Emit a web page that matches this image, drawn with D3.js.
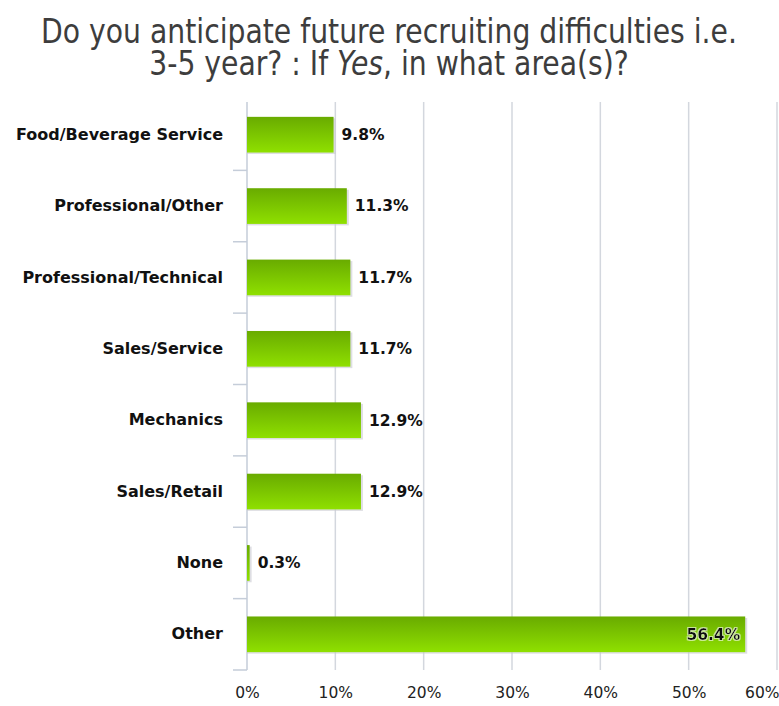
<!DOCTYPE html>
<html><head><meta charset="utf-8">
<script src="https://cdn.jsdelivr.net/npm/d3@7"></script>
<style>body{margin:0;background:#fff}svg{display:block}</style>
</head><body><svg id="c" width="779" height="706"></svg>
<script>
const categories = ["Food/Beverage Service","Professional/Other","Professional/Technical","Sales/Service","Mechanics","Sales/Retail","None","Other"];
const values = [9.8, 11.3, 11.7, 11.7, 12.9, 12.9, 0.3, 56.4];
const xTicks = [0,10,20,30,40,50,60];
const titleLines = ["Do you anticipate future recruiting difficulties i.e.", "3-5 year? : If |Yes|, in what area(s)?"];

const svg = d3.select("#c");
const m = {left:247, right:777, top:99, bottom:670};
const x = d3.scaleLinear().domain([0,60]).range([m.left, m.right]);
const y = d3.scaleBand().domain(categories).range([m.top, m.bottom]).paddingInner(0.5).paddingOuter(0.25);

const defs = svg.append("defs");
const g = defs.append("linearGradient").attr("id","bar").attr("x1",0).attr("y1",0).attr("x2",0).attr("y2",1);
g.append("stop").attr("offset","0%").attr("stop-color","#69ab00");
g.append("stop").attr("offset","100%").attr("stop-color","#8fe000");
const f = defs.append("filter").attr("id","glow");
f.append("feMorphology").attr("in","SourceAlpha").attr("operator","dilate").attr("radius",1).attr("result","d");
f.append("feFlood").attr("flood-color","#ffffff").attr("flood-opacity",0.6);
f.append("feComposite").attr("in2","d").attr("operator","in").attr("result","w");
const fm = f.append("feMerge"); fm.append("feMergeNode").attr("in","w"); fm.append("feMergeNode").attr("in","SourceGraphic");

// title
const title = svg.append("g").attr("transform","translate(389,0) scale(1,1.08)");
const tt = title.append("text").attr("text-anchor","middle").attr("fill","#3d3d3d")
  .style("font-family","'DejaVu Sans',sans-serif").style("font-stretch","condensed").style("font-size","30px");
titleLines.forEach((ln,i)=>{
  const t = tt.append("tspan").attr("x",0).attr("y",[39.5,69.5][i]);
  ln.split("|").forEach((part,j)=>{ t.append("tspan").text(part).style("font-style", j%2 ? "italic" : "normal"); });
});
// fit first line to the reference width (~698px)
const w0 = tt.select("tspan").node().getComputedTextLength();
tt.style("font-size", (30 * 696 / w0) + "px");

// grid
svg.append("g").selectAll("line").data(xTicks.filter(d=>d>0)).join("line")
  .attr("x1",d=>x(d)).attr("x2",d=>x(d)).attr("y1",102).attr("y2",m.bottom)
  .attr("stroke","#d3d7de").attr("stroke-width",1.5);

// y axis
const yAxis = d3.axisLeft(y).tickSize(0).tickPadding(24);
const ya = svg.append("g").attr("transform",`translate(${m.left},0)`).call(yAxis);
ya.select(".domain").remove();
ya.selectAll("text").attr("fill","#111").style("font-family","'DejaVu Sans',sans-serif").style("font-size","16px").style("font-weight","bold");
svg.append("line").attr("x1",m.left).attr("x2",m.left).attr("y1",102).attr("y2",m.bottom).attr("stroke","#c5cdd9").attr("stroke-width",1.5);
// band ticks
const step = y.step();
svg.append("g").selectAll("line").data(categories).join("line")
  .attr("x1",m.left-14).attr("x2",m.left)
  .attr("y1",d=>y(d)+y.bandwidth()+ step*0.25 ).attr("y2",d=>y(d)+y.bandwidth()+step*0.25)
  .attr("stroke","#c5cdd9").attr("stroke-width",1.5);

// x axis
const xAxis = d3.axisBottom(x).tickValues(xTicks).tickFormat(d=>d+"%").tickSize(0).tickPadding(17);
const xa = svg.append("g").attr("transform",`translate(0,${m.bottom})`).call(xAxis);
xa.select(".domain").remove();
xa.selectAll("text").attr("fill","#222").style("font-family","'DejaVu Sans',sans-serif").style("font-size","15.5px");
xa.selectAll(".tick").filter(d=>d===60).select("text").attr("text-anchor","end").attr("x",779-x(60));

// bars
const bars = svg.append("g");
bars.selectAll("rect.sh").data(values).join("rect").attr("class","sh")
  .attr("x",m.left).attr("y",(d,i)=>y(categories[i])+1.5).attr("height",y.bandwidth())
  .attr("width",d=>x(d)-m.left+2).attr("fill","#c8c8d0").attr("opacity",0.6);
bars.selectAll("rect.b").data(values).join("rect").attr("class","b")
  .attr("x",m.left).attr("y",(d,i)=>y(categories[i])).attr("height",y.bandwidth())
  .attr("width",d=>x(d)-m.left).attr("fill","url(#bar)");

// labels
svg.append("g").selectAll("text").data(values).join("text")
  .attr("x",d=> d>40 ? x(d)-5 : x(d)+8)
  .attr("y",(d,i)=>y(categories[i])+y.bandwidth()/2)
  .attr("dy","0.35em").attr("text-anchor",d=>d>40?"end":"start")
  .attr("fill","#111").attr("filter",d=>d>40?"url(#glow)":null)
  .style("font-family","'DejaVu Sans',sans-serif").style("font-size","15.5px").style("font-weight","bold")
  .text(d=>d.toFixed(1)+"%");
</script></body></html>
